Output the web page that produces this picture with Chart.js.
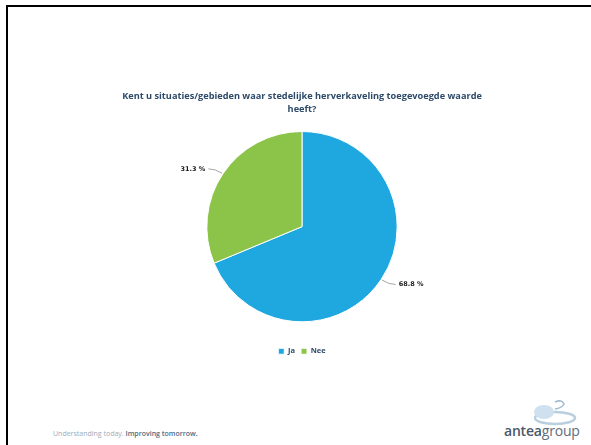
<!DOCTYPE html>
<html>
<head>
<meta charset="utf-8">
<script src="https://cdn.jsdelivr.net/npm/chart.js@4"></script>
<style>
  html, body { margin: 0; padding: 0; background: #fff; }
  body { width: 591px; height: 445px; position: relative; overflow: hidden; font-family: "Open Sans", "DejaVu Sans", sans-serif; }
  #frame { position: absolute; left: 6px; top: 5px; width: 600px; height: 460px; border-left: 2px solid #000; border-top: 2px solid #000; }
  #pie { position: absolute; left: 100px; top: 85px; width: 400px; height: 280px; }
  #footer { position: absolute; left: 53px; top: 429px; font-size: 7px; color: #9aabbb; white-space: nowrap; }
  #footer b { color: #4d6a85; font-weight: 600; }
  #swoosh { position: absolute; left: 525px; top: 398px; }
  #brand { position: absolute; left: 504px; top: 421px; font-size: 14px; color: #4a5968; white-space: nowrap; letter-spacing: -0.2px; }
  #brand b { font-weight: 600; }
  #brand span { color: #5d6e7d; }
</style>
</head>
<body>
<div id="frame"></div>
<canvas id="pie" width="400" height="280"></canvas>
<div id="footer">Understanding today. <b>Improving tomorrow.</b></div>
<svg id="swoosh" width="55" height="30" viewBox="0 0 55 30">
  <ellipse cx="30" cy="20" rx="20" ry="6" fill="none" stroke="#b9cfe0" stroke-width="2.5"/>
  <ellipse cx="19" cy="14" rx="10" ry="7" fill="#cfe0ee"/>
  <path d="M30 4 q7 -3 9 2 q-2 4 -9 5" fill="none" stroke="#9fbcd3" stroke-width="1.6"/>
</svg>
<div id="brand"><b>antea</b><span>group</span></div>
<script>
// data
const labels = ['Ja', 'Nee'];
const values = [68.8, 31.3];
const colors = ['#1fa8e0', '#8cc449'];
const titleLines = ['Kent u situaties/gebieden waar stedelijke herverkaveling toegevoegde waarde', 'heeft?'];

// percentage labels with a small grey leader line
const pctLabels = {
  id: 'pctLabels',
  afterDatasetsDraw(chart) {
    const ctx = chart.ctx;
    const arcs = chart.getDatasetMeta(0).data;
    ctx.save();
    ctx.font = 'bold 6.5px "DejaVu Sans", sans-serif';
    ctx.textBaseline = 'middle';
    arcs.forEach((arc, i) => {
      const mid = (arc.startAngle + arc.endAngle) / 2;
      const r = arc.outerRadius;
      const cos = Math.cos(mid), sin = Math.sin(mid);
      const x0 = arc.x + cos * (r + 1), y0 = arc.y + sin * (r + 1);
      const x1 = arc.x + cos * (r + 9), y1 = arc.y + sin * (r + 9);
      const right = cos >= 0;
      const x2 = x1 + (right ? 7 : -7);
      ctx.strokeStyle = '#a6a6a6';
      ctx.lineWidth = 1;
      ctx.beginPath();
      ctx.moveTo(x0, y0);
      ctx.quadraticCurveTo(x1, y1, x2, y1);
      ctx.stroke();
      ctx.fillStyle = '#1a1a1a';
      ctx.textAlign = right ? 'left' : 'right';
      ctx.fillText(values[i].toFixed(1) + ' %', x2 + (right ? 3 : -3), y1);
    });
    ctx.restore();
  }
};

new Chart(document.getElementById('pie'), {
  type: 'pie',
  data: {
    labels: labels,
    datasets: [{
      data: values,
      backgroundColor: colors,
      borderColor: '#ffffff',
      borderWidth: 1
    }]
  },
  options: {
    responsive: false,
    animation: false,
    maintainAspectRatio: false,
    layout: { padding: { top: 0, bottom: 0, left: 4, right: 0 } },
    plugins: {
      title: {
        display: true,
        text: titleLines,
        color: '#2e4a69',
        font: { family: '"Open Sans", sans-serif', size: 9.2, weight: 'bold', lineHeight: 13 / 9.2 },
        padding: { top: 5, bottom: 15 }
      },
      legend: {
        position: 'bottom',
        title: {
          display: true,
          text: '',
          font: { size: 1 },
          padding: { top: 0, bottom: 18 }
        },
        labels: {
          color: '#2e4a69',
          font: { family: '"Open Sans", sans-serif', size: 7.5, weight: 'bold' },
          boxWidth: 6,
          boxHeight: 6,
          padding: 6
        }
      },
      tooltip: { enabled: false }
    }
  },
  plugins: [pctLabels]
});
</script>
</body>
</html>
